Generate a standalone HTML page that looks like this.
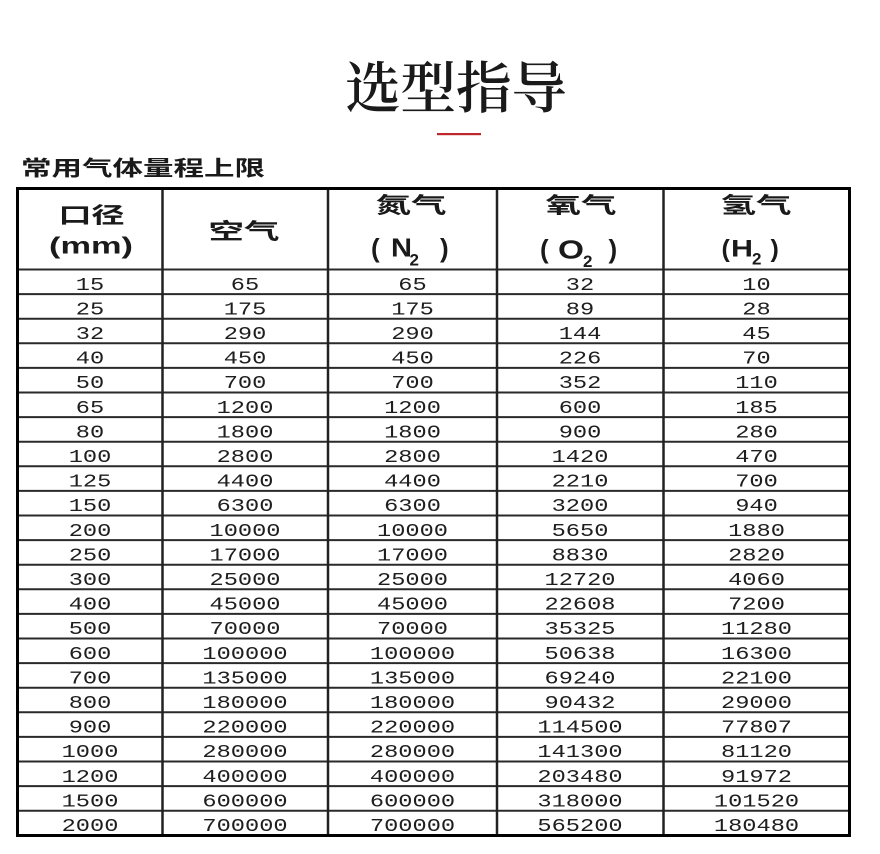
<!DOCTYPE html>
<html><head><meta charset="utf-8"><style>
html,body{margin:0;padding:0;background:#fff;width:880px;height:854px;overflow:hidden}
svg{display:block}
.d{font-family:"Liberation Mono","DejaVu Sans Mono",monospace;font-size:18.5px;fill:#1e1e1e}
.h{font-family:"Liberation Sans","Noto Sans CJK SC",sans-serif;font-weight:700;fill:#1a1a1a}
.c{font-family:"Noto Sans CJK SC","WenQuanYi Zen Hei",sans-serif;font-weight:700;fill:#1a1a1a}
</style></head><body>
<svg width="880" height="854" viewBox="0 0 880 854" xmlns="http://www.w3.org/2000/svg">
<rect width="880" height="854" fill="#fff"/>
<text x="456" y="108" font-family="'Noto Serif CJK SC','Liberation Serif',serif" font-weight="600" font-size="56" text-anchor="middle" textLength="222" lengthAdjust="spacingAndGlyphs" fill="#1a1a1a">选型指导</text>
<rect x="437" y="133" width="44" height="2.2" fill="#c0272d"/>
<text x="21" y="175.5" class="c" font-size="21" textLength="244" lengthAdjust="spacingAndGlyphs">常用气体量程上限</text>

<!-- grid -->
<g stroke="#2a2a2a" stroke-width="2">
<line x1="17.5" x2="849.5" y1="269.5" y2="269.5"/>
<line x1="17.5" x2="849.5" y1="294.1" y2="294.1"/>
<line x1="17.5" x2="849.5" y1="318.7" y2="318.7"/>
<line x1="17.5" x2="849.5" y1="343.3" y2="343.3"/>
<line x1="17.5" x2="849.5" y1="367.9" y2="367.9"/>
<line x1="17.5" x2="849.5" y1="392.5" y2="392.5"/>
<line x1="17.5" x2="849.5" y1="417.1" y2="417.1"/>
<line x1="17.5" x2="849.5" y1="441.7" y2="441.7"/>
<line x1="17.5" x2="849.5" y1="466.3" y2="466.3"/>
<line x1="17.5" x2="849.5" y1="490.9" y2="490.9"/>
<line x1="17.5" x2="849.5" y1="515.5" y2="515.5"/>
<line x1="17.5" x2="849.5" y1="540.1" y2="540.1"/>
<line x1="17.5" x2="849.5" y1="564.7" y2="564.7"/>
<line x1="17.5" x2="849.5" y1="589.3" y2="589.3"/>
<line x1="17.5" x2="849.5" y1="613.9" y2="613.9"/>
<line x1="17.5" x2="849.5" y1="638.5" y2="638.5"/>
<line x1="17.5" x2="849.5" y1="663.1" y2="663.1"/>
<line x1="17.5" x2="849.5" y1="687.7" y2="687.7"/>
<line x1="17.5" x2="849.5" y1="712.3" y2="712.3"/>
<line x1="17.5" x2="849.5" y1="736.9" y2="736.9"/>
<line x1="17.5" x2="849.5" y1="761.5" y2="761.5"/>
<line x1="17.5" x2="849.5" y1="786.1" y2="786.1"/>
<line x1="17.5" x2="849.5" y1="810.7" y2="810.7"/>
</g>
<g stroke="#222" stroke-width="2.5">
<line x1="162.5" x2="162.5" y1="188.5" y2="835.5"/>
<line x1="328" x2="328" y1="188.5" y2="835.5"/>
<line x1="497" x2="497" y1="188.5" y2="835.5"/>
<line x1="663.5" x2="663.5" y1="188.5" y2="835.5"/>
</g>
<rect x="17.5" y="188.5" width="832" height="647" fill="none" stroke="#000" stroke-width="3"/>

<!-- header -->
<text x="91.5" y="223" class="c" font-size="22" text-anchor="middle" textLength="66" lengthAdjust="spacingAndGlyphs">口径</text>
<text x="91" y="253.5" class="h" font-size="23" text-anchor="middle" textLength="84" lengthAdjust="spacingAndGlyphs">(mm)</text>
<text x="244" y="239" class="c" font-size="22" text-anchor="middle" textLength="71" lengthAdjust="spacingAndGlyphs">空气</text>
<text x="411" y="213" class="c" font-size="22" text-anchor="middle" textLength="71" lengthAdjust="spacingAndGlyphs">氮气</text>
<text x="581" y="213" class="c" font-size="22" text-anchor="middle" textLength="71" lengthAdjust="spacingAndGlyphs">氧气</text>
<text x="756" y="213" class="c" font-size="22" text-anchor="middle" textLength="71" lengthAdjust="spacingAndGlyphs">氢气</text>

<!-- (N2) -->
<text x="371" y="257" class="h" font-size="26">(</text>
<text x="391" y="256.5" class="h" font-size="25.5" textLength="21" lengthAdjust="spacingAndGlyphs">N</text>
<text x="409.5" y="265.5" class="h" font-size="17">2</text>
<text x="440" y="257" class="h" font-size="26">)</text>
<!-- (O2) -->
<text x="540" y="258" class="h" font-size="26">(</text>
<text x="558" y="258.5" class="h" font-size="25.5" textLength="26" lengthAdjust="spacingAndGlyphs">O</text>
<text x="583" y="267" class="h" font-size="17">2</text>
<text x="608.5" y="258" class="h" font-size="26">)</text>
<!-- (H2) -->
<text x="721.5" y="257" class="h" font-size="25">(</text>
<text x="731" y="256.5" class="h" font-size="24.5" textLength="22" lengthAdjust="spacingAndGlyphs">H</text>
<text x="752" y="264.5" class="h" font-size="17">2</text>
<text x="770.5" y="257" class="h" font-size="25">)</text>

<!-- data col 1 -->
<g class="d" text-anchor="middle" transform="translate(90,0) scale(1.28,1)">
<text x="0" y="289.8">15</text><text x="0" y="314.4">25</text><text x="0" y="339">32</text><text x="0" y="363.6">40</text><text x="0" y="388.2">50</text><text x="0" y="412.8">65</text><text x="0" y="437.4">80</text><text x="0" y="462">100</text><text x="0" y="486.6">125</text><text x="0" y="511.2">150</text><text x="0" y="535.8">200</text><text x="0" y="560.4">250</text><text x="0" y="585">300</text><text x="0" y="609.6">400</text><text x="0" y="634.2">500</text><text x="0" y="658.8">600</text><text x="0" y="683.4">700</text><text x="0" y="708">800</text><text x="0" y="732.6">900</text><text x="0" y="757.2">1000</text><text x="0" y="781.8">1200</text><text x="0" y="806.4">1500</text><text x="0" y="831">2000</text>
</g>
<!-- col 2 -->
<g class="d" text-anchor="middle" transform="translate(245,0) scale(1.28,1)">
<text x="0" y="289.8">65</text><text x="0" y="314.4">175</text><text x="0" y="339">290</text><text x="0" y="363.6">450</text><text x="0" y="388.2">700</text><text x="0" y="412.8">1200</text><text x="0" y="437.4">1800</text><text x="0" y="462">2800</text><text x="0" y="486.6">4400</text><text x="0" y="511.2">6300</text><text x="0" y="535.8">10000</text><text x="0" y="560.4">17000</text><text x="0" y="585">25000</text><text x="0" y="609.6">45000</text><text x="0" y="634.2">70000</text><text x="0" y="658.8">100000</text><text x="0" y="683.4">135000</text><text x="0" y="708">180000</text><text x="0" y="732.6">220000</text><text x="0" y="757.2">280000</text><text x="0" y="781.8">400000</text><text x="0" y="806.4">600000</text><text x="0" y="831">700000</text>
</g>
<!-- col 3 -->
<g class="d" text-anchor="middle" transform="translate(412.5,0) scale(1.28,1)">
<text x="0" y="289.8">65</text><text x="0" y="314.4">175</text><text x="0" y="339">290</text><text x="0" y="363.6">450</text><text x="0" y="388.2">700</text><text x="0" y="412.8">1200</text><text x="0" y="437.4">1800</text><text x="0" y="462">2800</text><text x="0" y="486.6">4400</text><text x="0" y="511.2">6300</text><text x="0" y="535.8">10000</text><text x="0" y="560.4">17000</text><text x="0" y="585">25000</text><text x="0" y="609.6">45000</text><text x="0" y="634.2">70000</text><text x="0" y="658.8">100000</text><text x="0" y="683.4">135000</text><text x="0" y="708">180000</text><text x="0" y="732.6">220000</text><text x="0" y="757.2">280000</text><text x="0" y="781.8">400000</text><text x="0" y="806.4">600000</text><text x="0" y="831">700000</text>
</g>
<!-- col 4 -->
<g class="d" text-anchor="middle" transform="translate(580,0) scale(1.28,1)">
<text x="0" y="289.8">32</text><text x="0" y="314.4">89</text><text x="0" y="339">144</text><text x="0" y="363.6">226</text><text x="0" y="388.2">352</text><text x="0" y="412.8">600</text><text x="0" y="437.4">900</text><text x="0" y="462">1420</text><text x="0" y="486.6">2210</text><text x="0" y="511.2">3200</text><text x="0" y="535.8">5650</text><text x="0" y="560.4">8830</text><text x="0" y="585">12720</text><text x="0" y="609.6">22608</text><text x="0" y="634.2">35325</text><text x="0" y="658.8">50638</text><text x="0" y="683.4">69240</text><text x="0" y="708">90432</text><text x="0" y="732.6">114500</text><text x="0" y="757.2">141300</text><text x="0" y="781.8">203480</text><text x="0" y="806.4">318000</text><text x="0" y="831">565200</text>
</g>
<!-- col 5 -->
<g class="d" text-anchor="middle" transform="translate(756.5,0) scale(1.28,1)">
<text x="0" y="289.8">10</text><text x="0" y="314.4">28</text><text x="0" y="339">45</text><text x="0" y="363.6">70</text><text x="0" y="388.2">110</text><text x="0" y="412.8">185</text><text x="0" y="437.4">280</text><text x="0" y="462">470</text><text x="0" y="486.6">700</text><text x="0" y="511.2">940</text><text x="0" y="535.8">1880</text><text x="0" y="560.4">2820</text><text x="0" y="585">4060</text><text x="0" y="609.6">7200</text><text x="0" y="634.2">11280</text><text x="0" y="658.8">16300</text><text x="0" y="683.4">22100</text><text x="0" y="708">29000</text><text x="0" y="732.6">77807</text><text x="0" y="757.2">81120</text><text x="0" y="781.8">91972</text><text x="0" y="806.4">101520</text><text x="0" y="831">180480</text>
</g>
</svg>
</body></html>
